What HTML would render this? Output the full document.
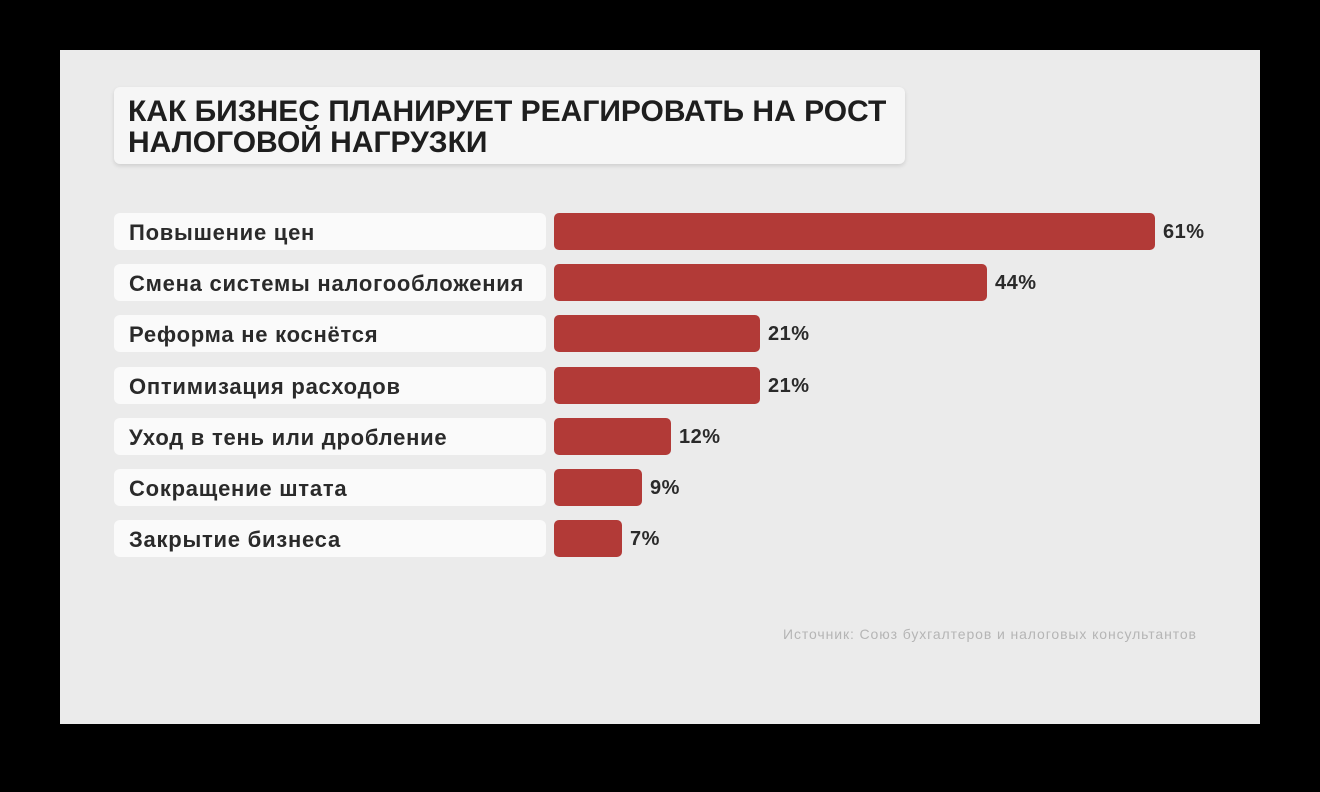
<!DOCTYPE html>
<html><head><meta charset="utf-8"><style>
body{margin:0;width:1320px;height:792px;background:#000;position:relative;overflow:hidden;font-family:"Liberation Sans",sans-serif}
#p{position:absolute;left:60px;top:50px;width:1200px;height:674px;background:#ebebeb}
.t{position:absolute;left:114px;top:87px;width:791px;height:77px;background:#f6f6f6;border-radius:6px;box-shadow:0 2px 4px rgba(0,0,0,.12)}
.t div{position:absolute;left:14px;top:9px;font-weight:bold;font-size:30px;line-height:31px;color:#1e1e1e;white-space:nowrap}
.l{position:absolute;left:114px;width:432px;height:37px;background:#fafafa;border-radius:6px;font-size:22px;letter-spacing:0.75px;font-weight:bold;color:#2a2a2a;line-height:39px;box-sizing:border-box;padding-left:15px;white-space:nowrap}
.b{position:absolute;left:554px;height:37px;background:#b23a37;border-radius:5px}
.v{position:absolute;font-size:20px;font-weight:bold;color:#2a2a2a;line-height:39px;letter-spacing:0.5px}
.s{position:absolute;left:783px;top:626px;font-size:14px;letter-spacing:0.9px;color:#b5b5b5;white-space:nowrap}
</style></head><body>
<div id="p"></div>
<div class="t"><div>КАК БИЗНЕС ПЛАНИРУЕТ РЕАГИРОВАТЬ НА РОСТ<br>НАЛОГОВОЙ НАГРУЗКИ</div></div>
<div class="l" style="top:213px">Повышение цен</div><div class="b" style="top:213px;width:601px"></div><div class="v" style="top:213px;left:1163px">61%</div>
<div class="l" style="top:264px">Смена системы налогообложения</div><div class="b" style="top:264px;width:433px"></div><div class="v" style="top:264px;left:995px">44%</div>
<div class="l" style="top:315px">Реформа не коснётся</div><div class="b" style="top:315px;width:206px"></div><div class="v" style="top:315px;left:768px">21%</div>
<div class="l" style="top:367px">Оптимизация расходов</div><div class="b" style="top:367px;width:206px"></div><div class="v" style="top:367px;left:768px">21%</div>
<div class="l" style="top:418px">Уход в тень или дробление</div><div class="b" style="top:418px;width:117px"></div><div class="v" style="top:418px;left:679px">12%</div>
<div class="l" style="top:469px">Сокращение штата</div><div class="b" style="top:469px;width:88px"></div><div class="v" style="top:469px;left:650px">9%</div>
<div class="l" style="top:520px">Закрытие бизнеса</div><div class="b" style="top:520px;width:68px"></div><div class="v" style="top:520px;left:630px">7%</div>
<div class="s">Источник: Союз бухгалтеров и налоговых консультантов</div>
</body></html>
